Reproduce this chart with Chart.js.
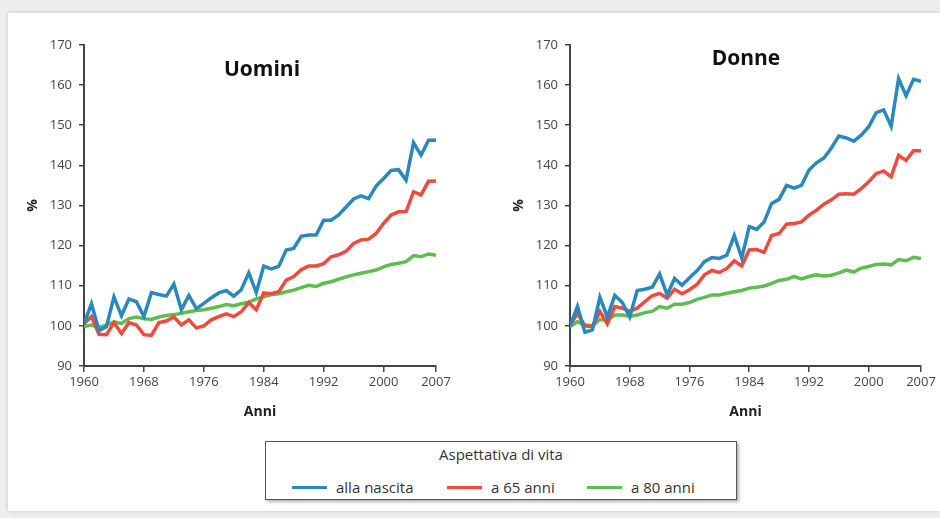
<!DOCTYPE html>
<html>
<head>
<meta charset="utf-8">
<script src="https://cdn.jsdelivr.net/npm/chart.js@4.4.0/dist/chart.umd.min.js"></script>
<style>
    html, body { margin: 0; padding: 0; width: 940px; height: 518px; overflow: hidden; background: #eeeeee; }
    #card { position: absolute; left: 8px; top: 13px; width: 932px; height: 498px; background: #fff; box-shadow: 0 0 4px rgba(0,0,0,0.18); }
    canvas { position: absolute; }
    .panel-title { position: absolute; font: bold 21px "Open Sans", sans-serif; color: #111; transform: translate(-50%, -50%); white-space: nowrap; }
    #legend { position: absolute; left: 265px; top: 441px; width: 470px; height: 57px; border: 1.5px solid #555; background: #fff; box-shadow: 2px 2px 3px rgba(0,0,0,0.3); font-family: "Open Sans", sans-serif; color: #333; }
    #legend .lg-title { position: absolute; left: 0; right: 0; top: 2px; text-align: center; font-size: 15px; }
    #legend .lg-item { position: absolute; top: 35px; font-size: 15px; line-height: 20px; white-space: nowrap; }
    #legend .swatch { display: inline-block; width: 35px; height: 3px; vertical-align: middle; margin-right: 9px; position: relative; top: -1px; }
</style>
</head>
<body>
<div id="card"></div>
<canvas id="chart-uomini" width="446" height="390" style="left:10px; top:30px;"></canvas>
<canvas id="chart-donne" width="442" height="390" style="left:496px; top:30px;"></canvas>
<div class="panel-title" style="left:262px; top:68px;">Uomini</div>
<div class="panel-title" style="left:746px; top:57px;">Donne</div>
<div id="legend"></div>

<script>
// Anni 1960-2007, indici (1960 = 100)
const years = [];
for (let y = 1960; y <= 2007; y++) years.push(y);
const xTicks = [1960, 1968, 1976, 1984, 1992, 2000, 2007];

const seriesNames = ['alla nascita', 'a 65 anni', 'a 80 anni'];
const seriesColors = ['#2b87bf', '#ef4a3d', '#5dbd4f'];

// Uomini
const uominiNascita = [
    100.5, 105.5, 98.8, 99.8, 107.2, 102.5, 106.7, 106.0, 102.3, 108.3,
    107.8, 107.4, 110.4, 104.0, 107.6, 104.3, 105.6, 107.0, 108.2, 108.8,
    107.4, 109.0, 113.2, 108.3, 114.9, 114.2, 114.8, 118.9, 119.3, 122.3,
    122.6, 122.6, 126.3, 126.3, 127.6, 129.6, 131.6, 132.4, 131.7, 134.8,
    136.7, 138.7, 138.9, 136.3, 145.6, 142.5, 146.2, 146.2
];
const uomini65 = [
    100.5, 102.3, 97.9, 97.8, 100.8, 98.1, 100.8, 100.2, 97.8, 97.6,
    100.8, 101.2, 102.2, 100.2, 101.5, 99.5, 100.0, 101.5, 102.3, 103.0,
    102.3, 103.5, 105.8, 104.0, 108.2, 108.0, 108.5, 111.4, 112.3, 114.0,
    114.9, 114.9, 115.5, 117.2, 117.7, 118.6, 120.5, 121.4, 121.6, 123.0,
    125.5, 127.6, 128.4, 128.4, 133.4, 132.6, 136.0, 136.1
];
const uomini80 = [
    99.8, 100.2, 99.6, 100.2, 101.0, 100.6, 101.8, 102.2, 101.8, 101.6,
    102.2, 102.6, 102.8, 103.1, 103.5, 103.8, 104.0, 104.4, 104.8, 105.3,
    105.0, 105.5, 105.9, 106.7, 107.2, 107.8, 108.0, 108.5, 108.9, 109.5,
    110.1, 109.8, 110.6, 111.0, 111.6, 112.2, 112.7, 113.1, 113.5, 113.9,
    114.7, 115.3, 115.6, 116.0, 117.5, 117.2, 117.9, 117.6
];

// Donne
const donneNascita = [
    100.0, 104.8, 98.4, 99.0, 107.1, 102.2, 107.6, 105.8, 102.2, 108.8,
    109.1, 109.6, 112.9, 107.7, 111.8, 110.1, 112.0, 113.7, 116.0, 117.0,
    116.8, 117.6, 122.5, 116.9, 124.7, 124.0, 125.9, 130.5, 131.5, 135.0,
    134.3, 135.0, 138.8, 140.6, 141.8, 144.3, 147.3, 146.8, 146.0, 147.5,
    149.6, 153.1, 153.8, 149.7, 161.6, 157.3, 161.4, 160.9
];
const donne65 = [
    100.0, 103.2, 100.0, 99.8, 103.6, 100.5, 104.8, 104.4, 103.6, 104.4,
    106.0, 107.5, 108.1, 106.9, 109.1, 108.0, 109.0, 110.3, 112.7, 113.8,
    113.3, 114.3, 116.2, 114.9, 118.9, 119.0, 118.3, 122.5, 123.0, 125.3,
    125.5, 125.9, 127.6, 128.8, 130.3, 131.4, 132.8, 132.9, 132.8, 134.2,
    135.9, 137.9, 138.6, 137.1, 142.5, 141.2, 143.6, 143.6
];
const donne80 = [
    99.8, 101.0, 100.2, 100.0, 101.6, 101.5, 102.7, 102.7, 102.4, 102.7,
    103.3, 103.6, 104.8, 104.4, 105.4, 105.4, 105.8, 106.6, 107.1, 107.7,
    107.7, 108.1, 108.5, 108.8, 109.4, 109.6, 109.9, 110.6, 111.3, 111.6,
    112.3, 111.7, 112.3, 112.7, 112.4, 112.6, 113.2, 113.9, 113.4, 114.4,
    114.8, 115.3, 115.4, 115.2, 116.5, 116.2, 117.1, 116.8
];

const axisColor = '#444';
const tickFont = { family: 'Open Sans', size: 13 };

function toPoints(values) {
    return values.map((v, i) => ({ x: years[i], y: v }));
}

function createPanel(canvasId, nascita, a65, a80, rightPad) {
    const ctx = document.getElementById(canvasId).getContext('2d');
    const all = [nascita, a65, a80];
    return new Chart(ctx, {
        type: 'line',
        data: {
            datasets: all.map((vals, i) => ({
                label: seriesNames[i],
                data: toPoints(vals),
                borderColor: seriesColors[i],
                backgroundColor: seriesColors[i],
                borderWidth: 3.5,
                pointRadius: 0,
                tension: 0,
                fill: false
            }))
        },
        options: {
            responsive: false,
            animation: false,
            layout: { padding: { top: 14, right: rightPad, left: 0, bottom: 0 } },
            plugins: {
                legend: { display: false },
                tooltip: { enabled: false }
            },
            scales: {
                x: {
                    type: 'linear',
                    min: 1960,
                    max: 2007,
                    afterBuildTicks: (s) => { s.ticks = xTicks.map(v => ({ value: v })); },
                    afterFit: (s) => { s.height = 54; },
                    ticks: {
                        autoSkip: false,
                        maxRotation: 0,
                        padding: 2,
                        color: axisColor,
                        font: tickFont,
                        callback: (v) => String(v)
                    },
                    grid: { drawOnChartArea: false, tickLength: 6, color: axisColor, lineWidth: 1.5 },
                    border: { color: axisColor, width: 2 },
                    title: { display: true, text: 'Anni', color: '#222', padding: 0,
                             font: { family: 'Open Sans', size: 14, weight: 'bold' } }
                },
                y: {
                    min: 90,
                    max: 170,
                    afterFit: (s) => { s.width = 74; },
                    ticks: { stepSize: 10, padding: 7, color: axisColor, font: tickFont },
                    grid: { drawOnChartArea: false, tickLength: 5, color: axisColor, lineWidth: 1.5 },
                    border: { color: axisColor, width: 2 },
                    title: { display: true, text: '%', color: '#222', padding: { top: 15, bottom: 0 },
                             font: { family: 'Open Sans', size: 14, weight: 'bold' } }
                }
            }
        }
    });
}

function buildLegend() {
    const box = document.getElementById('legend');
    const title = document.createElement('div');
    title.className = 'lg-title';
    title.textContent = 'Aspettativa di vita';
    box.appendChild(title);
    const lefts = [26, 181, 321];
    seriesNames.forEach((name, i) => {
        const item = document.createElement('div');
        item.className = 'lg-item';
        item.style.left = lefts[i] + 'px';
        const sw = document.createElement('span');
        sw.className = 'swatch';
        sw.style.background = seriesColors[i];
        item.appendChild(sw);
        item.appendChild(document.createTextNode(name));
        box.appendChild(item);
    });
}

createPanel('chart-uomini', uominiNascita, uomini65, uomini80, 20);
createPanel('chart-donne', donneNascita, donne65, donne80, 17);
buildLegend();
</script>
</body>
</html>
